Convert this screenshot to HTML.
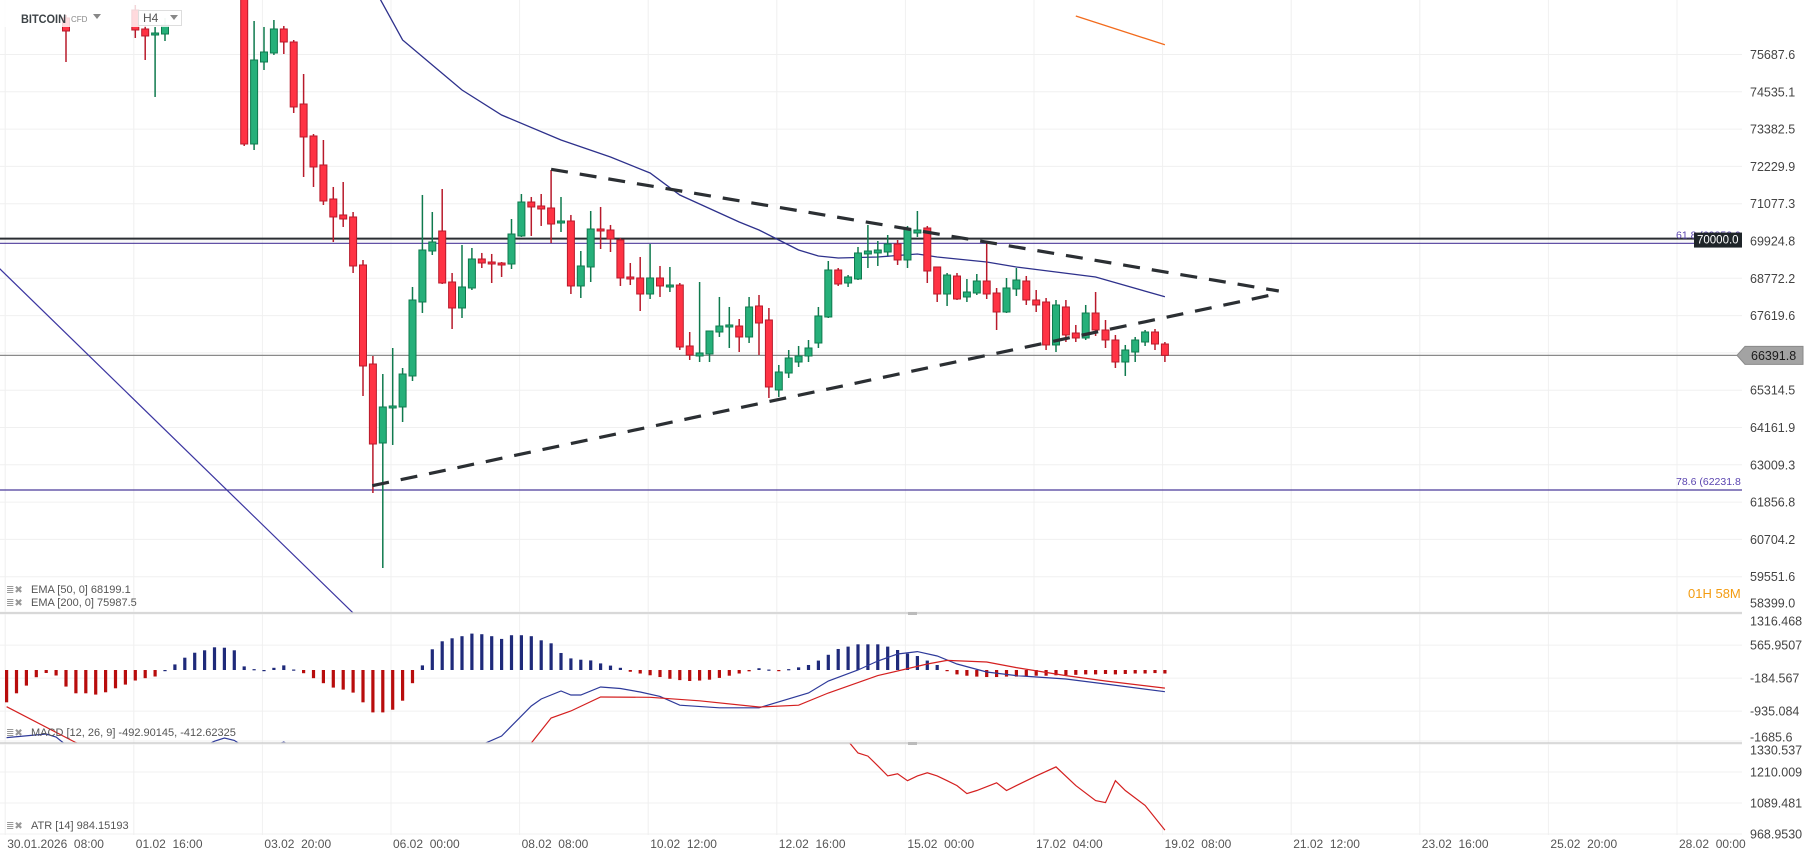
<!DOCTYPE html>
<html><head><meta charset="utf-8">
<style>
body{margin:0;width:1810px;height:865px;overflow:hidden;background:#fff;font-family:"Liberation Sans",sans-serif}
svg{position:absolute;left:0;top:0}
text{font-family:"Liberation Sans",sans-serif}
</style></head>
<body>
<svg id="chart" width="1810" height="865">
<defs>
<clipPath id="cMain"><rect x="0" y="0" width="1742" height="613"/></clipPath>
<clipPath id="cMacd"><rect x="0" y="613" width="1742" height="130"/></clipPath>
<clipPath id="cAtr"><rect x="0" y="743" width="1742" height="92"/></clipPath>
</defs>
<g id="grid"></g>
<g id="main" clip-path="url(#cMain)"></g>
<g id="macd" clip-path="url(#cMacd)"></g>
<g id="atr" clip-path="url(#cAtr)"></g>
<g id="axes"></g>
<line x1="0" y1="613" x2="1742" y2="613" stroke="#d0d0d0" stroke-width="1.5"/>
<line x1="0" y1="743" x2="1742" y2="743" stroke="#d0d0d0" stroke-width="1.5"/>
<rect x="908" y="612" width="9" height="3" fill="#bbb"/>
<rect x="908" y="742" width="9" height="3" fill="#bbb"/>
<g>
<rect x="0" y="0" width="200" height="27" fill="rgba(255,255,255,0.82)"/>
<text x="21" y="23" font-size="12" font-weight="bold" fill="#3d4347" textLength="45" lengthAdjust="spacingAndGlyphs">BITCOIN</text>
<text x="71" y="22" font-size="8" fill="#888">CFD</text>
<path d="M93 14 L101 14 L97 19 Z" fill="#888"/>
<rect x="138.5" y="10.5" width="43" height="15" fill="rgba(255,255,255,0.7)" stroke="#ddd"/>
<text x="143" y="22" font-size="12" fill="#555">H4</text>
<path d="M170 15 L178 15 L174 20 Z" fill="#888"/>
</g>
<g font-size="11" fill="#555">
<text x="6" y="593" font-size="10" fill="#999">≣✖</text>
<text x="31" y="593">EMA [50, 0] 68199.1</text>
<text x="6" y="606" font-size="10" fill="#999">≣✖</text>
<text x="31" y="606">EMA [200, 0] 75987.5</text>
<text x="6" y="736" font-size="10" fill="#999">≣✖</text>
<text x="31" y="736">MACD [12, 26, 9] -492.90145,  -412.62325</text>
<text x="6" y="829" font-size="10" fill="#999">≣✖</text>
<text x="31" y="829">ATR [14] 984.15193</text>
</g>
<text x="1688" y="598" font-size="13" fill="#f39c12">01H 58M</text>
</svg>
<script>
const opens=[78000,78200,78400,78100,77900,77800,
76816,77800,78100,78400,78050,77900,77700,77063,76476,76291,76321,77700,77900,78200,78000,77800,78000,77900,78299,72922,75456,75734,76476,76074,74158,73170,72274,71223,70729,70667,69184,66124,63683,64765,64796,65754,68040,69616,70234,68658,67855,68473,69369,69276,69245,69214,70080,71130,71007,70945,70481,70543,68535,69122,70296,70265,69956,68813,68782,68287,68782,68504,68565,66681,66372,66434,67113,67268,67298,66959,67917,67484,65321,65846,66186,66372,66773,67577,69029,68627,68751,69524,69555,69585,69832,69338,70172,70327,69122,68287,68843,68195,68318,68689,68318,67731,68442,68689,68102,68040,66712,67886,67082,66928,67700,67175,66866,66186,66495,66804,67113,66742];
const highs=[78400,78600,78700,78500,78300,78200,
76908,78300,78600,78700,78500,78200,78000,77217,76600,76538,76816,78100,78400,78600,78300,78200,78400,78300,78454,76723,76538,76754,76569,76136,75085,73231,73046,71594,71748,70821,69338,66372,65815,66619,66001,68504,71347,70821,71532,68936,69802,69709,69555,69524,69276,70605,71377,71285,71377,72119,71285,70729,69616,70852,70976,70420,70018,69245,69431,69832,69153,69122,68627,67113,68658,66619,68195,67886,67515,68195,68257,67855,66094,66557,66681,66866,67886,69307,69090,68874,69740,70420,69925,70110,69956,70389,70852,70389,69122,68936,68936,68751,68905,69925,68473,68782,69090,68844,68411,68164,68102,68102,67330,67948,68349,67484,67021,66712,66959,67175,67206,66804];
const lows=[77700,77900,78000,77800,77600,77600,
75456,77600,77900,77950,77700,77550,77500,76198,75518,74375,76105,77500,77700,77900,77600,77550,77700,77600,72861,72737,75209,75672,75703,73880,71903,71594,71037,69894,70358,68936,65136,62138,59821,63622,64332,65599,67701,69492,68596,67206,67546,68411,69090,68627,68813,69060,70049,70080,70389,69863,70203,68287,68164,68658,69678,69585,68535,68565,67762,68133,68195,68349,66557,66248,66186,66186,66959,66619,66495,66773,66403,65074,65105,65692,66032,66186,66619,67546,68535,68504,68720,69090,69153,69462,69184,69090,70049,68627,68040,67917,68102,68040,68256,68133,67175,67700,68226,67948,67731,66557,66495,66804,66804,66866,66990,66619,66001,65754,66186,66681,66557,66186];
const closes=[78200,78400,78100,77900,77800,77700,
76414,78100,78400,78050,77900,77700,77600,76445,76260,76352,76600,77900,78200,78000,77800,78000,77900,78100,72922,75518,75765,76476,76074,74066,73139,72212,71161,70667,70605,69153,66063,63652,64796,64827,65815,68102,69647,69894,68627,67855,68504,69369,69245,69214,69184,70141,71130,70976,70914,70450,70543,68535,69153,70296,70234,69987,68782,68751,68287,68782,68535,68565,66650,66403,66465,67144,67298,67330,66959,67886,67391,65414,65877,66310,66372,66619,67608,69029,68596,68813,69555,69616,69647,69832,69338,70296,70265,68998,68287,68874,68133,68349,68689,68287,67731,68473,68720,68102,67948,66712,67948,67021,66928,67700,67175,66866,66186,66557,66866,67113,66742,66392];
const ema50Idx=[37.5,40,43,46,50,56,61,65,68,70,74,76,78,80,82,84,88,92,94,99,102,110,117];
const ema50Val=[77526,76136,75364,74591,73819,73046,72521,72026,71347,71068,70512,70265,69956,69647,69462,69400,69431,69524,69431,69276,69122,68813,68199.1];
const ema200Idx=[108,117];
const ema200Val=[76878,75987.5];
const diagIdx=[-1,40];
const diagVal=[69159,56940];
const trendUpIdx=[55,128.5];
const trendUpVal=[72141,68380];
const trendLoIdx=[36.94,128.5];
const trendLoVal=[62364,68306];
const levelVals=[70000,69852.9,66391.8,62231.8];
const priceTicks=[75687.6,74535.1,73382.5,72229.9,71077.3,69924.8,68772.2,67619.6,66467.1,65314.5,64161.9,63009.3,61856.8,60704.2,59551.6,58399.0];
const hist=[-735,-530,-355,-164,-68,-125,-377,-530,-530,-559,-507,-416,-332,-239,-186,-148,0,127,280,393,448,516,507,448,82,20,0,50,105,11,-73,-186,-300,-400,-446,-514,-735,-964,-964,-903,-698,-300,105,471,653,721,769,828,814,769,707,791,791,769,675,607,387,264,234,218,
150,100,50,-40,-80,-120,-160,-200,-230,-250,-240,-220,-180,-130,-80,-30,40,10,-20,20,60,114,214,346,478,532,584,584,584,532,455,373,318,214,114,-20,-100,
-130,-150,-160,-160,-150,-150,-140,-130,-130,-120,-120,-110,-100,-100,-90,-100,-90,-80,-80,-70,-80];
const macdIdx=[0,4,5,6,8,15,21,22,23,25,28,30,36,42,48,50,53,54,56,57,58,60,62,64,66,68,72,76,81,83,86,88,90,92,94,96,99,102,107,111,117];
const macdVal=[-1537,-1455,-1524,-1706,-2000,-2300,-1620,-1546,-1600,-1900,-1637,-1900,-2500,-2300,-1700,-1500,-819,-659,-478,-569,-569,-387,-420,-500,-600,-800,-860,-860,-523,-250,0,205,364,418,318,136,-45,-127,-205,-318,-492.9];
const sigIdx=[0,7,12,30,45,53,55,57,60,65,70,76,80,83,88,93,95,99,102,107,111,117];
const sigVal=[-835,-1650,-2100,-2200,-1900,-1660,-1092,-932,-614,-620,-700,-841,-800,-523,-127,136,218,182,55,-127,-250,-412.6];
const macdTicks=[1316.468,565.9507,-184.567,-935.084,-1685.60];
const atrIdx=[84,85,86,87,88,89,90,91,92,93,94,95,96,97,98,100,101,102,104,106,108,110,111,112,113,115,117];
const atrVal=[1400,1330,1284,1272,1234,1195,1203,1176,1195,1207,1195,1176,1157,1126,1138,1168,1138,1157,1195,1230,1157,1099,1091,1176,1138,1080,984.15];
const atrTicks=[1330.537,1210.009,1089.481,968.953];
const dateLabels=["30.01.2026  08:00","01.02  16:00","03.02  20:00","06.02  00:00","08.02  08:00","10.02  12:00","12.02  16:00","15.02  00:00","17.02  04:00","19.02  08:00","21.02  12:00","23.02  16:00","25.02  20:00","28.02  00:00"];

const NS="http://www.w3.org/2000/svg";
function xOf(i){return 6.6+9.9*i;}
function yP(p){return 241+(69924.8-p)*0.032363;}
function yM(v){return 670-v*0.04397;}
function yA(v){return 772-(v-1210.009)*0.2572;}
function mk(tag,parent){const e=document.createElementNS(NS,tag);parent.appendChild(e);return e;}
const G=document.getElementById('grid'),M=document.getElementById('main'),MC=document.getElementById('macd'),AT=document.getElementById('atr'),AX=document.getElementById('axes');

for(let k=0;k<14;k++){
 const gx=5.2+128.6*k;
 const l=mk('line',G);
 
 
 l.setAttribute('x1',gx);l.setAttribute('x2',gx);l.setAttribute('y1',0);l.setAttribute('y2',835);l.setAttribute('stroke','#f0f0f0');
 const t=mk('text',AX);
 
 
 t.setAttribute('x',gx+2);t.setAttribute('y',848);t.setAttribute('font-size','12');t.setAttribute('fill','#555');
 t.style.whiteSpace='pre';
 t.textContent=dateLabels[k];
}
priceTicks.forEach(p=>{
 const y=yP(p);
 const l=mk('line',G);
 
 
 l.setAttribute('x1',0);l.setAttribute('x2',1742);l.setAttribute('y1',y);l.setAttribute('y2',y);l.setAttribute('stroke','#f0f0f0');
 const t=mk('text',AX);
 
 
 t.setAttribute('x',1750);t.setAttribute('y',Math.min(y,603)+4.5);t.setAttribute('font-size','12.5');t.setAttribute('fill','#444');
 t.textContent=p.toFixed(1);
});
macdTicks.forEach(v=>{
 const y=yM(v);
 const l=mk('line',G);
 
 
 l.setAttribute('x1',0);l.setAttribute('x2',1742);l.setAttribute('y1',y);l.setAttribute('y2',y);l.setAttribute('stroke','#f0f0f0');
 const t=mk('text',AX);
 
 
 t.setAttribute('x',1750);t.setAttribute('y',Math.min(Math.max(y,621),737)+4.5);t.setAttribute('font-size','12.5');t.setAttribute('fill','#444');
 t.textContent=String(v);
});
atrTicks.forEach(v=>{
 const y=yA(v);
 const l=mk('line',G);
 
 
 l.setAttribute('x1',0);l.setAttribute('x2',1742);l.setAttribute('y1',y);l.setAttribute('y2',y);l.setAttribute('stroke','#f0f0f0');
 const t=mk('text',AX);
 
 
 t.setAttribute('x',1750);t.setAttribute('y',Math.max(y,750)+4.5);t.setAttribute('font-size','12.5');t.setAttribute('fill','#444');
 t.textContent=v===968.953?'968.9530':String(v);
});

const lvColors=['#2a2e33','#4b3a9a','#8a8a8a','#4b3a9a'];
const lvWidths=[2,1.2,1.2,1.2];
levelVals.forEach((v,k)=>{
 const l=mk('line',M);
 
 
 l.setAttribute('x1',0);l.setAttribute('x2',1742);l.setAttribute('y1',yP(v));l.setAttribute('y2',yP(v));
 l.setAttribute('stroke',lvColors[k]);l.setAttribute('stroke-width',lvWidths[k]);
});
function polyPts(idx,vals,sc){return idx.map((d,k)=>xOf(d).toFixed(1)+','+sc(vals[k]).toFixed(1)).join(' ');}
function pline(parent,idx,vals,sc,color,w,dash){
 const p=mk('polyline',parent);
 p.setAttribute('points',polyPts(idx,vals,sc));p.setAttribute('fill','none');p.setAttribute('stroke',color);p.setAttribute('stroke-width',w);
 if(dash)p.setAttribute('stroke-dasharray',dash);
 return p;
}
let e;
e=pline(M,diagIdx,diagVal,yP,'#3b35a0',1.2);


e=pline(M,ema50Idx,ema50Val,yP,'#2e318c',1.3);


e=pline(M,ema200Idx,ema200Val,yP,'#f26b1d',1.3);



for(let i=0;i<opens.length;i++){
 const o=opens[i],h=highs[i],lo=lows[i],c=closes[i];
 const up=c>=o;
 const fill=up?'#26b07a':'#ff3344',st=up?'#0f7a4e':'#b81a2b';
 const x=xOf(i);
 const w=mk('line',M);
 
 
 w.setAttribute('x1',x);w.setAttribute('x2',x);w.setAttribute('y1',yP(h));w.setAttribute('y2',yP(lo));w.setAttribute('stroke',st);w.setAttribute('stroke-width',1.5);
 const top=yP(Math.max(o,c)),bot=yP(Math.min(o,c));
 const b=mk('rect',M);
 
 
 b.setAttribute('x',x-3.5);b.setAttribute('y',top);b.setAttribute('width',7);b.setAttribute('height',Math.max(bot-top,2));
 b.setAttribute('fill',fill);b.setAttribute('stroke',st);b.setAttribute('stroke-width',1);
}
e=pline(M,trendUpIdx,trendUpVal,yP,'#2b2f33',3.2,'17 12');


e=pline(M,trendLoIdx,trendLoVal,yP,'#2b2f33',3.2,'17 12');



hist.forEach((v,i)=>{
 const r=mk('rect',MC);
 
 
 const y0=yM(0),y1=yM(v);
 r.setAttribute('x',xOf(i)-1.6);r.setAttribute('width',3.2);
 r.setAttribute('y',Math.min(y0,y1));r.setAttribute('height',Math.max(Math.abs(y1-y0),1.2));
 r.setAttribute('fill',v>=0?'#1f2a7a':'#b80c0c');
});
e=pline(MC,macdIdx,macdVal,yM,'#2e3a9a',1.2);


e=pline(MC,sigIdx,sigVal,yM,'#d42020',1.2);



e=pline(AT,atrIdx,atrVal,yA,'#d42020',1.2);



const fib1=mk('text',AX);


fib1.setAttribute('x',1676);fib1.setAttribute('y',yP(levelVals[1])-5);fib1.setAttribute('font-size','10.5');fib1.setAttribute('fill','#5b45b0');
fib1.textContent='61.8 (69852.9';
const box=mk('rect',AX);


box.setAttribute('x',1694);box.setAttribute('y',yP(levelVals[0])-6);box.setAttribute('width',48);box.setAttribute('height',15);box.setAttribute('fill','#1f2529');
const bt=mk('text',AX);


bt.setAttribute('x',1697);bt.setAttribute('y',yP(levelVals[0])+5);bt.setAttribute('font-size','11.5');bt.setAttribute('fill','#fff');
bt.textContent='70000.0';
const fib2=mk('text',AX);


fib2.setAttribute('x',1676);fib2.setAttribute('y',yP(levelVals[3])-5);fib2.setAttribute('font-size','10.5');fib2.setAttribute('fill','#5b45b0');
fib2.textContent='78.6 (62231.8';
const py=yP(levelVals[2]);
const pb=mk('path',AX);


pb.setAttribute('d',`M1737 ${py} L1745 ${py-9} L1803 ${py-9} L1803 ${py+9} L1745 ${py+9} Z`);
pb.setAttribute('fill','#a3a3a3');pb.setAttribute('stroke','#8a8a8a');
const pt=mk('text',AX);


pt.setAttribute('x',1751);pt.setAttribute('y',py+4.5);pt.setAttribute('font-size','12.5');pt.setAttribute('fill','#1a1a1a');
pt.textContent=levelVals[2].toFixed(1);
</script>
</body></html>
